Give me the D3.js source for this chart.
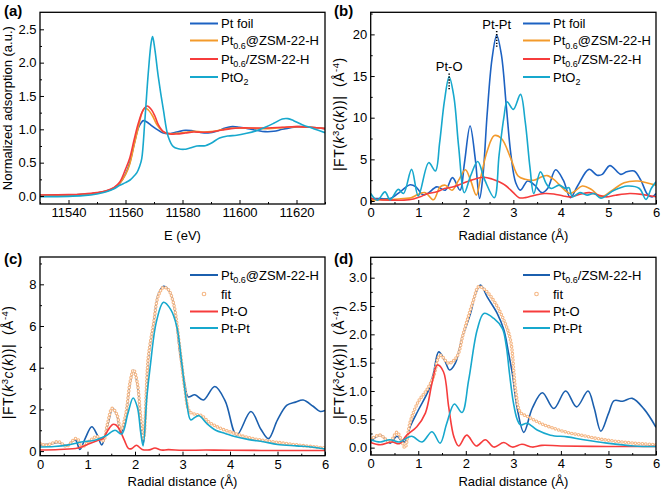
<!DOCTYPE html>
<html><head><meta charset="utf-8">
<script src="https://cdn.jsdelivr.net/npm/d3@7"></script>
<style>
html,body{margin:0;padding:0;background:#fff;}
svg{display:block;font-family:"Liberation Sans",Arial,Helvetica,sans-serif;}
</style></head><body>
<svg id="chart" width="661" height="494"></svg>
<script>
// ---------------- DATA ----------------
// (a) XANES: [E (eV), normalized absorption]
const xanesPtFoil = [[11530,0.01],[11540,0.015],[11545,0.025],[11550,0.045],[11553,0.07],[11556,0.12],[11558,0.19],[11560,0.33],[11561.5,0.5],[11563,0.77],[11564.5,1.02],[11565.5,1.1],[11566.3,1.13],[11567.5,1.11],[11569,1.06],[11571,1.0],[11573,0.95],[11575,0.935],[11578,0.96],[11581,0.985],[11583,0.98],[11586,0.955],[11589,0.945],[11592,0.97],[11595,1.02],[11597.5,1.04],[11600,1.03],[11603,1.01],[11606,0.985],[11609,0.965],[11612,0.97],[11615,1.0],[11618,1.025],[11621,1.04],[11625,1.03],[11630,1.01]];
const xanesPtAt = [[11530,0.01],[11540,0.015],[11545,0.025],[11550,0.045],[11553,0.07],[11556,0.12],[11558,0.19],[11560,0.32],[11561.5,0.48],[11563,0.76],[11564.5,1.03],[11565.8,1.25],[11566.8,1.32],[11568,1.29],[11569.5,1.2],[11571,1.07],[11573,0.97],[11575,0.935],[11578,0.94],[11581,0.955],[11584,0.97],[11587,0.96],[11590,0.965],[11594,0.995],[11597,1.015],[11601,1.02],[11605,1.015],[11610,1.01],[11615,1.025],[11620,1.04],[11625,1.03],[11630,1.01]];
const xanesPtOn = [[11530,0.015],[11540,0.02],[11545,0.03],[11550,0.05],[11553,0.075],[11556,0.13],[11558,0.21],[11560,0.4],[11561.5,0.57],[11563,0.84],[11564.5,1.09],[11566.2,1.29],[11567.6,1.35],[11569,1.3],[11570.3,1.2],[11571.5,1.07],[11573.3,0.965],[11575.6,0.93],[11578,0.93],[11581,0.945],[11584,0.96],[11587,0.955],[11590,0.96],[11594,0.99],[11597,1.01],[11600,1.02],[11605,1.02],[11610,1.02],[11615,1.03],[11620,1.04],[11625,1.03],[11630,1.01]];
const xanesPtO2 = [[11530,-0.01],[11540,-0.005],[11545,0.005],[11550,0.03],[11553,0.06],[11556,0.11],[11558,0.16],[11560,0.2],[11561.6,0.24],[11563,0.3],[11564,0.35],[11565,0.45],[11565.7,0.56],[11566.8,1.14],[11568,1.85],[11569,2.3],[11569.5,2.39],[11570.3,2.2],[11571.5,1.79],[11573.3,1.29],[11575,0.89],[11576.8,0.74],[11578.5,0.71],[11580.5,0.70],[11582.6,0.72],[11585,0.75],[11588,0.755],[11590,0.79],[11593,0.87],[11596,0.9],[11599,0.91],[11602.5,0.94],[11606,0.98],[11609,1.03],[11612,1.09],[11615,1.155],[11617,1.16],[11619,1.13],[11622,1.07],[11626,1.01],[11630,0.95]];

// (b) FT-EXAFS: [R (Å), |FT|]
const ftPtFoil = [[0,0.3],[0.2,0.3],[0.41,0.3],[0.62,1.1],[0.83,1.95],[0.95,1.7],[1.1,0.75],[1.2,0.9],[1.39,1.7],[1.57,1.3],[1.72,2.8],[1.88,1.3],[1.97,4.5],[2.09,9.0],[2.2,5.0],[2.29,0.3],[2.36,3.0],[2.45,10.5],[2.55,17.0],[2.65,19.9],[2.75,17.5],[2.85,11.5],[2.95,5.5],[3.05,2.2],[3.15,1.3],[3.3,2.4],[3.45,1.9],[3.6,1.0],[3.72,1.5],[3.89,3.75],[4.05,2.5],[4.2,0.4],[4.35,1.8],[4.59,3.8],[4.76,3.1],[4.87,3.2],[5.03,4.25],[5.26,3.2],[5.38,3.5],[5.54,3.6],[5.68,2.5],[5.82,0.8],[5.92,0.5],[6.0,0.9]];
const ftPtAt = [[0,0.1],[0.2,0.15],[0.5,0.2],[0.7,0.3],[0.85,0.4],[1.0,0.8],[1.15,1.0],[1.32,0.15],[1.46,1.7],[1.57,1.9],[1.71,1.3],[1.85,2.5],[1.99,3.75],[2.1,2.5],[2.22,0.7],[2.32,3.0],[2.45,6.0],[2.6,7.85],[2.75,7.5],[2.94,5.2],[3.1,3.0],[3.25,2.6],[3.43,2.5],[3.6,2.9],[3.71,3.05],[3.85,2.6],[3.96,2.0],[4.1,1.2],[4.2,0.9],[4.3,1.2],[4.45,1.8],[4.64,1.4],[4.84,0.5],[5.06,1.2],[5.33,2.2],[5.61,2.4],[5.8,2.2],[6.0,1.9]];
const ftPtOn = [[0,0.3],[0.2,0.15],[0.5,0.1],[0.7,0.1],[0.9,0.25],[1.04,0.5],[1.2,0.9],[1.39,1.1],[1.55,1.5],[1.74,1.7],[2.02,2.3],[2.2,2.65],[2.38,2.85],[2.55,2.65],[2.7,2.3],[2.85,1.8],[3.0,1.0],[3.12,0.4],[3.25,0.4],[3.45,0.7],[3.65,0.9],[3.85,0.85],[4.05,0.6],[4.2,0.5],[4.4,0.8],[4.6,1.0],[4.8,0.7],[4.95,0.5],[5.15,0.7],[5.45,0.9],[5.7,0.8],[5.9,0.6],[6.0,0.5]];
const ftPtO2 = [[0,0.9],[0.14,0.1],[0.3,1.1],[0.41,0.15],[0.58,1.4],[0.69,0.9],[0.86,3.8],[1.0,0.6],[1.22,4.6],[1.36,3.6],[1.45,7.0],[1.55,12.0],[1.65,14.9],[1.75,12.5],[1.85,6.5],[1.97,1.0],[2.1,3.0],[2.25,4.75],[2.4,2.5],[2.6,0.4],[2.7,5.5],[2.8,10.0],[2.87,11.9],[3.0,11.0],[3.15,12.8],[3.25,9.5],[3.35,4.0],[3.43,0.9],[3.57,3.5],[3.7,2.0],[3.8,1.5],[3.96,1.9],[4.1,1.5],[4.17,1.6],[4.24,0.5],[4.4,1.0],[4.55,0.7],[4.7,0.9],[4.84,0.35],[5.12,1.3],[5.4,1.8],[5.65,1.5],[5.79,0.2],[5.9,1.5],[6.0,2.3]];
const annotations = [{label:"Pt-O", r:1.65, top:15.3, bottom:13.4, textV:15.6},{label:"Pt-Pt", r:2.65, top:20.4, bottom:18.4, textV:20.7}];

// (c) fitting of Pt0.6@ZSM-22-H
const cData = [[0,0.3],[0.2,0.33],[0.39,0.42],[0.56,0.25],[0.74,0.55],[0.84,0.08],[0.95,0.6],[1.09,1.17],[1.2,0.8],[1.3,0.3],[1.42,1.2],[1.53,2.05],[1.62,1.7],[1.7,0.85],[1.8,1.6],[1.9,3.3],[1.97,3.88],[2.05,3.2],[2.12,1.5],[2.18,0.4],[2.28,4.4],[2.39,6.1],[2.49,7.5],[2.6,7.9],[2.7,7.75],[2.81,7.1],[2.95,4.6],[3.05,3.2],[3.12,2.6],[3.26,2.7],[3.44,2.45],[3.68,3.1],[3.9,2.4],[4.14,0.77],[4.44,1.9],[4.65,1.05],[4.81,0.6],[5.0,1.5],[5.2,2.2],[5.38,2.35],[5.54,2.45],[5.75,2.15],[5.9,1.9],[6.0,1.95]];
const cFit = [[0,0.37],[0.1,0.28],[0.2,0.33],[0.39,0.45],[0.56,0.23],[0.74,0.6],[0.8,0.55],[0.88,0.2],[1.05,0.5],[1.2,0.7],[1.33,0.5],[1.42,1.3],[1.52,2.05],[1.62,1.75],[1.7,1.0],[1.8,1.7],[1.9,3.35],[1.97,3.9],[2.05,3.25],[2.12,1.6],[2.18,0.6],[2.28,4.5],[2.39,6.1],[2.49,7.45],[2.6,7.85],[2.7,7.75],[2.81,7.1],[2.95,4.8],[3.05,3.0],[3.15,1.9],[3.3,1.75],[3.4,1.7],[3.55,1.4],[3.7,1.2],[3.9,1.0],[4.1,0.85],[4.3,0.7],[4.6,0.55],[5.0,0.42],[5.4,0.3],[5.8,0.2],[6.0,0.15]];
const cPtO = [[0,0.05],[0.4,0.08],[0.8,0.15],[1.05,0.37],[1.2,0.5],[1.33,0.61],[1.43,1.0],[1.53,1.28],[1.6,1.25],[1.68,1.01],[1.78,0.5],[1.86,0.13],[1.93,0.12],[2.03,0.28],[2.15,0.08],[2.3,0.06],[2.42,0.15],[2.55,0.05],[2.7,0.07],[3.0,0.04],[3.5,0.05],[4.0,0.04],[5.0,0.03],[6.0,0.03]];
const cPtPt = [[0,0.2],[0.3,0.22],[0.6,0.3],[0.9,0.45],[1.1,0.5],[1.26,0.61],[1.4,0.75],[1.58,1.0],[1.72,0.82],[1.85,1.8],[1.96,2.55],[2.05,2.1],[2.12,0.9],[2.17,0.25],[2.25,2.6],[2.32,4.05],[2.45,6.2],[2.6,7.14],[2.75,6.8],[2.88,5.97],[2.98,4.3],[3.09,2.3],[3.17,1.5],[3.25,1.6],[3.35,1.7],[3.5,1.35],[3.7,1.0],[3.9,0.85],[4.1,0.7],[4.4,0.55],[4.7,0.45],[5.0,0.32],[5.4,0.25],[5.7,0.2],[6.0,0.1]];

// (d) fitting of Pt0.6/ZSM-22-H
const dData = [[0,0.11],[0.2,0.22],[0.41,0.08],[0.55,0.2],[0.65,0.12],[0.72,0.1],[0.83,0.37],[1.0,0.66],[1.22,1.02],[1.32,1.31],[1.43,1.69],[1.55,1.55],[1.66,1.37],[1.78,1.49],[1.92,1.93],[2.1,2.37],[2.2,2.7],[2.31,2.87],[2.45,2.66],[2.66,2.37],[2.8,2.08],[2.9,1.67],[2.98,1.3],[3.08,0.7],[3.22,0.27],[3.4,0.7],[3.61,0.97],[3.85,0.69],[4.1,1.0],[4.33,0.72],[4.57,1.0],[4.7,0.7],[4.84,0.29],[5.0,0.6],[5.12,0.83],[5.3,0.82],[5.5,0.87],[5.75,0.68],[6.0,0.36]];
const dFit = [[0,0.15],[0.2,0.22],[0.4,0.1],[0.55,0.27],[0.65,0.12],[0.72,0.0],[0.83,0.45],[1.0,0.81],[1.18,1.02],[1.32,1.25],[1.46,1.63],[1.64,1.49],[1.81,1.6],[1.95,2.02],[2.16,2.6],[2.27,2.84],[2.41,2.78],[2.62,2.55],[2.8,2.25],[2.94,1.9],[3.05,1.0],[3.15,0.62],[3.3,0.55],[3.43,0.49],[3.6,0.42],[3.78,0.36],[4.13,0.27],[4.48,0.21],[4.83,0.15],[5.18,0.11],[5.53,0.08],[6.0,0.05]];
const dPtO = [[0,0.09],[0.2,0.05],[0.45,0.1],[0.6,0.07],[0.76,0.22],[0.97,0.37],[1.15,0.61],[1.29,1.14],[1.4,1.46],[1.53,1.34],[1.64,0.72],[1.75,0.19],[1.85,0.03],[2.02,0.22],[2.22,0.03],[2.41,0.14],[2.59,0.01],[2.8,0.09],[2.98,0.01],[3.18,0.06],[3.4,0.01],[3.6,0.04],[4.0,0.03],[5.0,0.02],[6.0,0.02]];
const dPtPt = [[0,0.14],[0.2,0.1],[0.4,0.14],[0.6,0.1],[0.86,0.2],[1.08,0.1],[1.29,0.28],[1.46,0.08],[1.6,0.43],[1.76,0.77],[1.92,0.62],[2.06,1.19],[2.24,2.08],[2.38,2.37],[2.59,2.28],[2.77,2.1],[2.85,1.8],[2.92,1.3],[3.0,0.8],[3.08,0.5],[3.15,0.4],[3.29,0.43],[3.5,0.31],[3.78,0.22],[4.13,0.19],[4.48,0.14],[4.97,0.08],[5.53,0.03],[6.0,0.02]];

// tick values
const aXTicks = [11540,11560,11580,11600,11620];
const aYTicks = [0,0.5,1.0,1.5,2.0,2.5];
const rTicks = [0,1,2,3,4,5,6];
const bYTicks = [0,5,10,15,20];
const cYTicks = [0,2,4,6,8];
const dYTicks = [0,0.5,1.0,1.5,2.0,2.5,3.0];

// legend labels (rich text parts)
const lblPtFoil = [{t:"Pt foil"}];
const lblPtAt = [{t:"Pt"},{t:"0.6",sub:true},{t:"@ZSM-22-H"}];
const lblPtOn = [{t:"Pt"},{t:"0.6",sub:true},{t:"/ZSM-22-H"}];
const lblPtO2 = [{t:"PtO"},{t:"2",sub:true}];
const lblFit = [{t:"fit"}];
const lblPtO = [{t:"Pt-O"}];
const lblPtPt = [{t:"Pt-Pt"}];

// ---------------- STYLE ----------------
const C_BLUE = "#1d62c2", C_DBLUE = "#1b5fae", C_ORANGE = "#f39a2b", C_RED = "#f63c3c", C_CYAN = "#17a8cd", C_FIT = "#f5b785";
const svg = d3.select("#chart");
const FS = 13;

function rich(sel, parts){
  let shift = 0;
  parts.forEach(p=>{
    const ts = sel.append("tspan").text(p.t);
    let target = 0;
    if(p.sub){ ts.attr("font-size", 9); target = 3.5; }
    if(p.sup){ ts.attr("font-size", 9.5); target = -5.5; }
    if(p.it) ts.attr("font-style","italic");
    if(target !== shift){ ts.attr("dy", target - shift); shift = target; }
  });
}

const ftTitle = [{t:"|FT("},{t:"k",it:true},{t:"3",sup:true},{t:"c",it:true},{t:"("},{t:"k",it:true},{t:"))|\u00A0 (Å"},{t:"-4",sup:true},{t:")"}];

function drawPanel(cfg){
  const x = d3.scaleLinear().domain(cfg.xDomain).range([cfg.left, cfg.right]);
  const y = d3.scaleLinear().domain(cfg.yDomain).range([cfg.bottom, cfg.top]);
  const g = svg.append("g");
  const clipId = "clip-" + cfg.id;
  svg.append("clipPath").attr("id", clipId).append("rect")
    .attr("x", cfg.left).attr("y", cfg.top).attr("width", cfg.right - cfg.left).attr("height", cfg.bottom - cfg.top);
  const plot = g.append("g").attr("clip-path", `url(#${clipId})`);
  const line = d3.line().x(d => x(d[0])).y(d => y(d[1])).curve(d3.curveCatmullRom.alpha(0.5));
  cfg.series.forEach(s => {
    if(s.fit){
      plot.append("path").attr("d", line(s.data)).attr("fill","none").attr("stroke", C_FIT)
        .attr("stroke-width", 3.6).attr("stroke-linecap","round").attr("stroke-dasharray","0 3.4");
      plot.append("path").attr("d", line(s.data)).attr("fill","none").attr("stroke", "#fff")
        .attr("stroke-width", 1.5).attr("stroke-linecap","round").attr("stroke-dasharray","0 3.4");
    } else {
      plot.append("path").attr("d", line(s.data)).attr("fill","none").attr("stroke", s.color)
        .attr("stroke-width", 1.6).attr("stroke-linejoin","round");
    }
  });
  // annotations
  (cfg.annotations || []).forEach(a => {
    g.append("line").attr("x1", x(a.r)).attr("x2", x(a.r)).attr("y1", y(a.top)).attr("y2", y(a.bottom))
      .attr("stroke","#000").attr("stroke-width",1.6).attr("stroke-dasharray","1.3 1.6");
    g.append("text").attr("x", x(a.r)).attr("y", y(a.textV)).attr("text-anchor","middle")
      .attr("font-size", FS).attr("fill","#000").text(a.label);
  });
  // axes (ticks inward)
  const xMajor = g.append("g").attr("transform", `translate(0,${cfg.bottom})`)
    .call(d3.axisBottom(x).tickValues(cfg.xTicks).tickFormat(cfg.xFormat).tickSizeInner(-4).tickSizeOuter(0).tickPadding(4));
  const xMinor = g.append("g").attr("transform", `translate(0,${cfg.bottom})`)
    .call(d3.axisBottom(x).tickValues(cfg.xMinor).tickFormat("").tickSizeInner(-2).tickSizeOuter(0));
  const yMajor = g.append("g").attr("transform", `translate(${cfg.left},0)`)
    .call(d3.axisLeft(y).tickValues(cfg.yTicks).tickFormat(cfg.yFormat).tickSizeInner(-4).tickSizeOuter(0).tickPadding(3.5));
  const yMinor = g.append("g").attr("transform", `translate(${cfg.left},0)`)
    .call(d3.axisLeft(y).tickValues(cfg.yMinor).tickFormat("").tickSizeInner(-2).tickSizeOuter(0));
  [xMajor,xMinor,yMajor,yMinor].forEach(a => {
    a.select(".domain").remove();
    a.attr("font-family", null).attr("font-size", FS);
    a.selectAll("line").attr("stroke","#000").attr("stroke-width",1);
    a.selectAll("text").attr("fill","#000");
  });
  // frame
  g.append("rect").attr("x", cfg.left).attr("y", cfg.top).attr("width", cfg.right - cfg.left).attr("height", cfg.bottom - cfg.top)
    .attr("fill","none").attr("stroke","#000").attr("stroke-width",1.3);
  // titles
  g.append("text").attr("x", (cfg.left + cfg.right) / 2).attr("y", cfg.xTitleY).attr("text-anchor","middle")
    .attr("font-size", FS).attr("fill","#000").text(cfg.xTitle);
  const yt = g.append("text").attr("transform", `translate(${cfg.yTitleX},${(cfg.top + cfg.bottom) / 2 + (cfg.yTitleShift || 0)}) rotate(-90)`)
    .attr("text-anchor","middle").attr("font-size", cfg.yTitleSize || FS).attr("fill","#000");
  if(cfg.yTitleSpacing) yt.attr("letter-spacing", cfg.yTitleSpacing);
  rich(yt, cfg.yTitle);
  // panel letter
  g.append("text").attr("x", cfg.letterX).attr("y", cfg.letterY).attr("font-size", 15).attr("font-weight","bold")
    .attr("fill","#000").text(cfg.letter);
  // legend
  cfg.legend.forEach((e, i) => {
    const ly = cfg.legendY[i];
    if(e.fit){
      g.append("circle").attr("cx", (cfg.legendX1 + cfg.legendX2) / 2).attr("cy", ly).attr("r", 1.8)
        .attr("fill","#fff").attr("stroke", C_FIT).attr("stroke-width", 1.1);
    } else {
      g.append("line").attr("x1", cfg.legendX1).attr("x2", cfg.legendX2).attr("y1", ly).attr("y2", ly)
        .attr("stroke", e.color).attr("stroke-width", 2);
    }
    const t = g.append("text").attr("x", cfg.legendX2 + 3).attr("y", ly + 4.6).attr("font-size", FS).attr("fill","#000");
    rich(t, e.label);
  });
}

const rMinor = [0.5,1.5,2.5,3.5,4.5,5.5];
const fmt1 = d3.format(".1f"), fmtD = d3.format("d");
const ftTitleStyle = {yTitleSize:14, yTitleSpacing:0.5, yTitleShift:6};

drawPanel({id:"a", letter:"(a)", letterX:4, letterY:16, left:40, right:325, top:12.3, bottom:204,
  xDomain:[11530,11630], yDomain:[-0.12,2.755], xTicks:aXTicks, xMinor:[11530,11550,11570,11590,11610,11630],
  yTicks:aYTicks, yMinor:[0.25,0.75,1.25,1.75,2.25], xFormat:fmtD, yFormat:fmt1,
  xTitle:"E (eV)", xTitleY:240, yTitle:[{t:"Normalized adsorption (a.u.)"}], yTitleX:12,
  series:[{data:xanesPtFoil,color:C_BLUE},{data:xanesPtAt,color:C_ORANGE},{data:xanesPtOn,color:C_RED},{data:xanesPtO2,color:C_CYAN}],
  legend:[{label:lblPtFoil,color:C_BLUE},{label:lblPtAt,color:C_ORANGE},{label:lblPtOn,color:C_RED},{label:lblPtO2,color:C_CYAN}],
  legendX1:190, legendX2:218, legendY:[23.5,40.5,59,77]});

drawPanel(Object.assign({id:"b", letter:"(b)", letterX:334, letterY:16, left:370.7, right:656, top:12.3, bottom:204,
  xDomain:[0,6], yDomain:[-0.36,22.65], xTicks:rTicks, xMinor:rMinor,
  yTicks:bYTicks, yMinor:[2.5,7.5,12.5,17.5,22.5], xFormat:fmtD, yFormat:fmtD,
  xTitle:"Radial distance (Å)", xTitleY:240, yTitle:ftTitle, yTitleX:344,
  series:[{data:ftPtFoil,color:C_BLUE},{data:ftPtAt,color:C_ORANGE},{data:ftPtOn,color:C_RED},{data:ftPtO2,color:C_CYAN}],
  annotations:annotations,
  legend:[{label:lblPtFoil,color:C_BLUE},{label:lblPtAt,color:C_ORANGE},{label:lblPtOn,color:C_RED},{label:lblPtO2,color:C_CYAN}],
  legendX1:523, legendX2:550, legendY:[23.5,40.5,59,77]}, ftTitleStyle));

drawPanel(Object.assign({id:"c", letter:"(c)", letterX:4, letterY:264, left:40, right:325, top:257, bottom:455.7,
  xDomain:[0,6], yDomain:[-0.22,9.31], xTicks:rTicks, xMinor:rMinor,
  yTicks:cYTicks, yMinor:[1,3,5,7,9], xFormat:fmtD, yFormat:fmtD,
  xTitle:"Radial distance (Å)", xTitleY:486, yTitle:ftTitle, yTitleX:13,
  series:[{data:cData,color:C_DBLUE},{data:cFit,fit:true},{data:cPtO,color:C_RED},{data:cPtPt,color:C_CYAN}],
  legend:[{label:lblPtAt,color:C_DBLUE},{label:lblFit,fit:true},{label:lblPtO,color:C_RED},{label:lblPtPt,color:C_CYAN}],
  legendX1:190, legendX2:218, legendY:[275,294,311.5,328]}, ftTitleStyle));

drawPanel(Object.assign({id:"d", letter:"(d)", letterX:334, letterY:264, left:370.7, right:656, top:257.3, bottom:455,
  xDomain:[0,6], yDomain:[-0.13,3.36], xTicks:rTicks, xMinor:rMinor,
  yTicks:dYTicks, yMinor:[0.25,0.75,1.25,1.75,2.25,2.75,3.25], xFormat:fmtD, yFormat:fmt1,
  xTitle:"Radial distance (Å)", xTitleY:486, yTitle:ftTitle, yTitleX:344,
  series:[{data:dData,color:C_DBLUE},{data:dFit,fit:true},{data:dPtO,color:C_RED},{data:dPtPt,color:C_CYAN}],
  legend:[{label:lblPtOn,color:C_DBLUE},{label:lblFit,fit:true},{label:lblPtO,color:C_RED},{label:lblPtPt,color:C_CYAN}],
  legendX1:523, legendX2:550, legendY:[275,294,311.5,328]}, ftTitleStyle));
</script>
</body></html>
